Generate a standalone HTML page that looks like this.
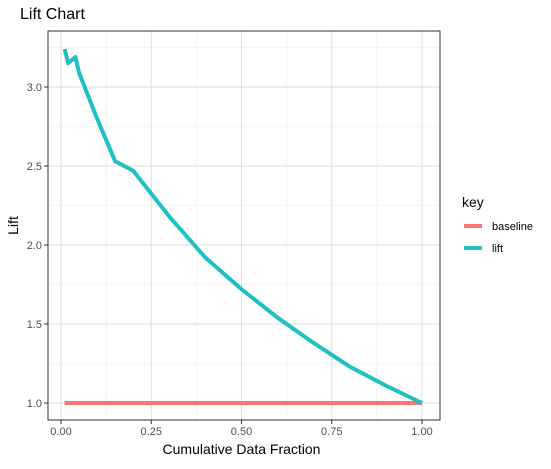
<!DOCTYPE html>
<html><head><meta charset="utf-8"><style>body{margin:0;background:#fff}svg{font-family:"Liberation Sans",sans-serif}</style></head>
<body>
<svg id="c" width="551" height="464"></svg>
<script>
const liftX=[0.01,0.02,0.04,0.05,0.1,0.15,0.2,0.3,0.4,0.5,0.6,0.7,0.8,0.9,1.0];
const liftY=[3.24,3.15,3.19,3.09,2.80,2.53,2.47,2.18,1.92,1.72,1.54,1.38,1.23,1.11,1.0];
const baseX=[0.01,1.0];
const baseY=[1.0,1.0];
const xTicks=[0,0.25,0.5,0.75,1.0];
const xTickLabels=["0.00","0.25","0.50","0.75","1.00"];
const yTicks=[1.0,1.5,2.0,2.5,3.0];
const yTickLabels=["1.0","1.5","2.0","2.5","3.0"];
const NS="http://www.w3.org/2000/svg",svg=document.getElementById('c');
const L=48,R=440,T=31,B=420;
const sx=v=>61+(v)*361, sy=v=>403-(v-1)*158;
function el(t,a,p){const e=document.createElementNS(NS,t);for(const k in a)e.setAttribute(k,a[k]);(p||svg).appendChild(e);return e;}
const g=el('g',{});

for(let i=0;i<xTicks.length-1;i++){const m=(xTicks[i]+xTicks[i+1])/2;el('line',{x1:sx(m),x2:sx(m),y1:T,y2:B,stroke:'#ebebeb','stroke-width':0.6},g);}
for(let i=0;i<yTicks.length-1;i++){const m=(yTicks[i]+yTicks[i+1])/2;el('line',{x1:L,x2:R,y1:sy(m),y2:sy(m),stroke:'#ebebeb','stroke-width':0.6},g);}
[3.25].forEach(m=>el('line',{x1:L,x2:R,y1:sy(m),y2:sy(m),stroke:'#ebebeb','stroke-width':0.6},g));
xTicks.forEach((v,i)=>{el('line',{x1:sx(v),x2:sx(v),y1:T,y2:B,stroke:'#dedede','stroke-width':1},g);
 const l=el('line',{x1:sx(v),x2:sx(v),y1:B,y2:B+4,stroke:'#333'});
 const t=el('text',{x:sx(v),y:B+15,'text-anchor':'middle','font-size':11,fill:'#4d4d4d'});t.textContent=xTickLabels[i];
 });
yTicks.forEach((v,i)=>{el('line',{x1:L,x2:R,y1:sy(v),y2:sy(v),stroke:'#dedede','stroke-width':1},g);
 el('line',{x1:L-4,x2:L,y1:sy(v),y2:sy(v),stroke:'#333'});
 const t=el('text',{x:L-6,y:sy(v)+4,'text-anchor':'end','font-size':11,fill:'#4d4d4d'});t.textContent=yTickLabels[i];
 });
function line(xs,ys,c,n){const p=el('polyline',{points:xs.map((x,i)=>sx(x)+','+sy(ys[i])).join(' '),fill:'none',stroke:c,'stroke-width':4,'stroke-linejoin':'round'});
}
line(baseX,baseY,'#f8766d','baseline-line');
line(liftX,liftY,'#1fbfc4','lift-line');
const fr=el('rect',{x:L,y:T,width:R-L,height:B-T,fill:'none',stroke:'#333','stroke-width':1});

let t=el('text',{x:20,y:19,'font-size':16,fill:'#000'});t.textContent='Lift Chart';
t=el('text',{x:sx(0.5),y:454,'text-anchor':'middle','font-size':14,fill:'#000'});t.textContent='Cumulative Data Fraction';
t=el('text',{x:18,y:(T+B)/2,'text-anchor':'middle','font-size':14,fill:'#000',transform:`rotate(-90 18 ${(T+B)/2})`});t.textContent='Lift';
t=el('text',{x:462,y:207,'font-size':14,fill:'#000'});t.textContent='key';
[['baseline','#f8766d',226],['lift','#1fbfc4',248]].forEach(([n,c,y])=>{
 const gg=el('g',{});
 el('line',{x1:464,x2:482,y1:y,y2:y,stroke:c,'stroke-width':4},gg);
 const tt=el('text',{x:492,y:y+4,'font-size':11,fill:'#000'},gg);tt.textContent=n;});
</script>
</body></html>
